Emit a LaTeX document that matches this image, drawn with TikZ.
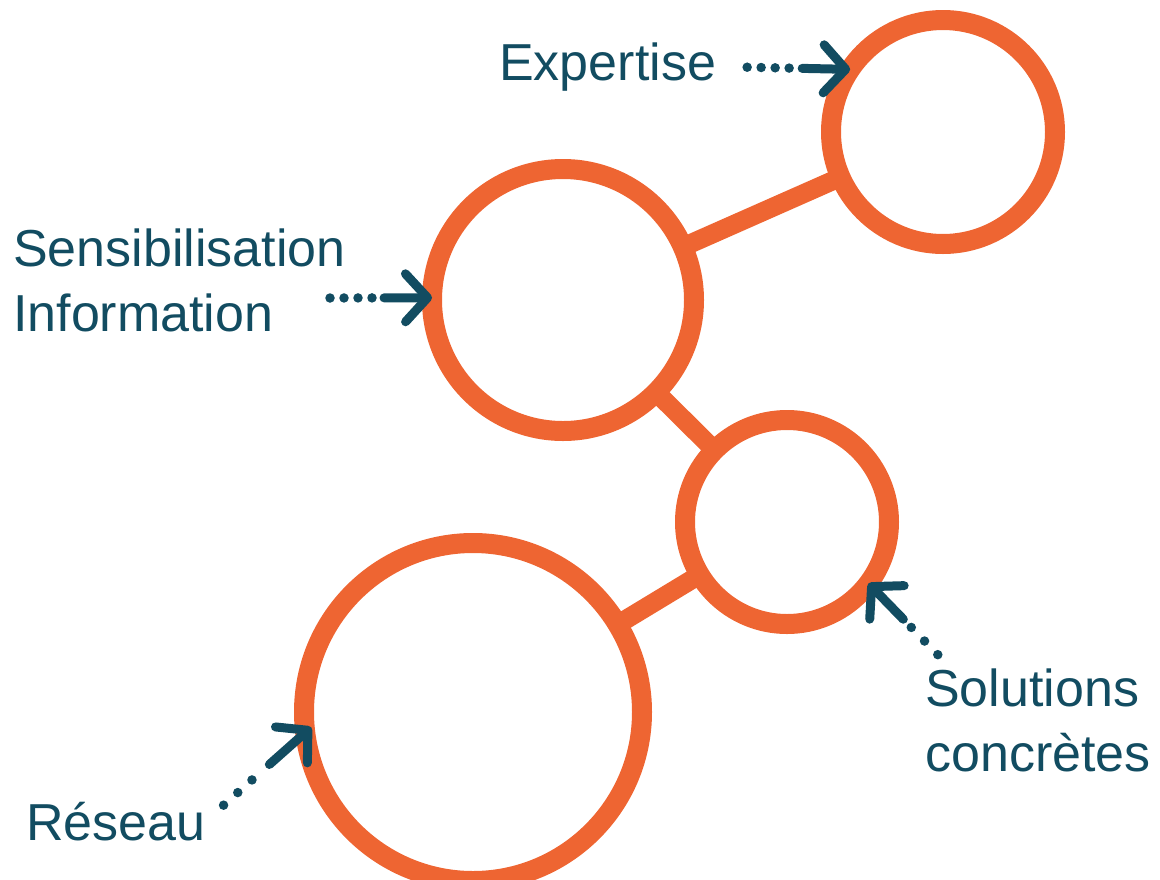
\documentclass[tikz,border=0pt]{standalone}
\usepackage{fontspec}
\setmainfont{Liberation Sans}
\usetikzlibrary{arrows.meta,calc}

\definecolor{rouille}{RGB}{238,101,50}
\definecolor{sarcelle}{RGB}{18,76,97}

\tikzset{
  bulle/.style={circle, draw=rouille, line width=20pt, inner sep=0pt, outer sep=0pt},
  lien/.style={draw=rouille, line width=19pt},
  etiquette/.style={text=sarcelle, inner sep=0pt, font=\fontsize{52}{65}\selectfont, align=left},
  pointille/.style={draw=sarcelle, line width=9.5pt, line cap=round, dash pattern=on 0pt off #1},
  pointille/.default=14pt,
  fleche/.style={draw=sarcelle, line width=9pt, line cap=round, -{Straight Barb[length=22pt,width=48pt,round]}},
}

\begin{document}
\begin{tikzpicture}[x=1pt,y=-1pt]
  \clip (0,0) rectangle (1160,879);

  % Cercles
  \node[bulle, minimum size=224pt] (expertise c) at (943,132) {};
  \node[bulle, minimum size=262pt] (sensib c) at (563,300) {};
  \node[bulle, minimum size=204pt] (solutions c) at (787,522) {};
  \node[bulle, minimum size=338pt] (reseau c) at (473,712) {};

  % Liens entre les cercles
  \draw[lien] (sensib c) -- (expertise c);
  \draw[lien] (sensib c) -- (solutions c);
  \draw[lien] (solutions c) -- (reseau c);

  % Etiquettes
  \node[etiquette, anchor=base west] (expertise) at (499,80) {Expertise};
  \node[etiquette, anchor=north west] (sensib) at (13,229) {Sensibilisation\\Information};
  \node[etiquette, anchor=north west] (solutions) at (925,669) {Solutions\\concrètes};
  \node[etiquette, anchor=base west] (reseau) at (26,840) {Réseau};
  \coordinate (sensib queue) at (330,298);

  % Fleches pointillees
  \draw[pointille, shorten <=31pt, shorten >=48pt] (expertise.east) -- (expertise c.146);
  \draw[fleche] ($(expertise c.146)!48pt!(expertise.east)$) -- (expertise c.146);

  \draw[pointille, shorten >=48pt] (sensib queue) -- (sensib c.179);
  \draw[fleche] ($(sensib c.179)!48pt!(sensib queue)$) -- (sensib c.179);

  \draw[pointille=19pt, shorten <=20pt, shorten >=50pt] (solutions.149) -- (solutions c.-37);
  \draw[fleche] ($(solutions c.-37)!50pt!(solutions.149)$) -- (solutions c.-37);

  \draw[pointille=19pt, shorten <=24pt, shorten >=56pt] (reseau.east) -- (reseau c.-173);
  \draw[fleche, shorten >=-8pt] ($(reseau c.-173)!48pt!(reseau.east)$) -- (reseau c.-173);
\end{tikzpicture}
\end{document}
